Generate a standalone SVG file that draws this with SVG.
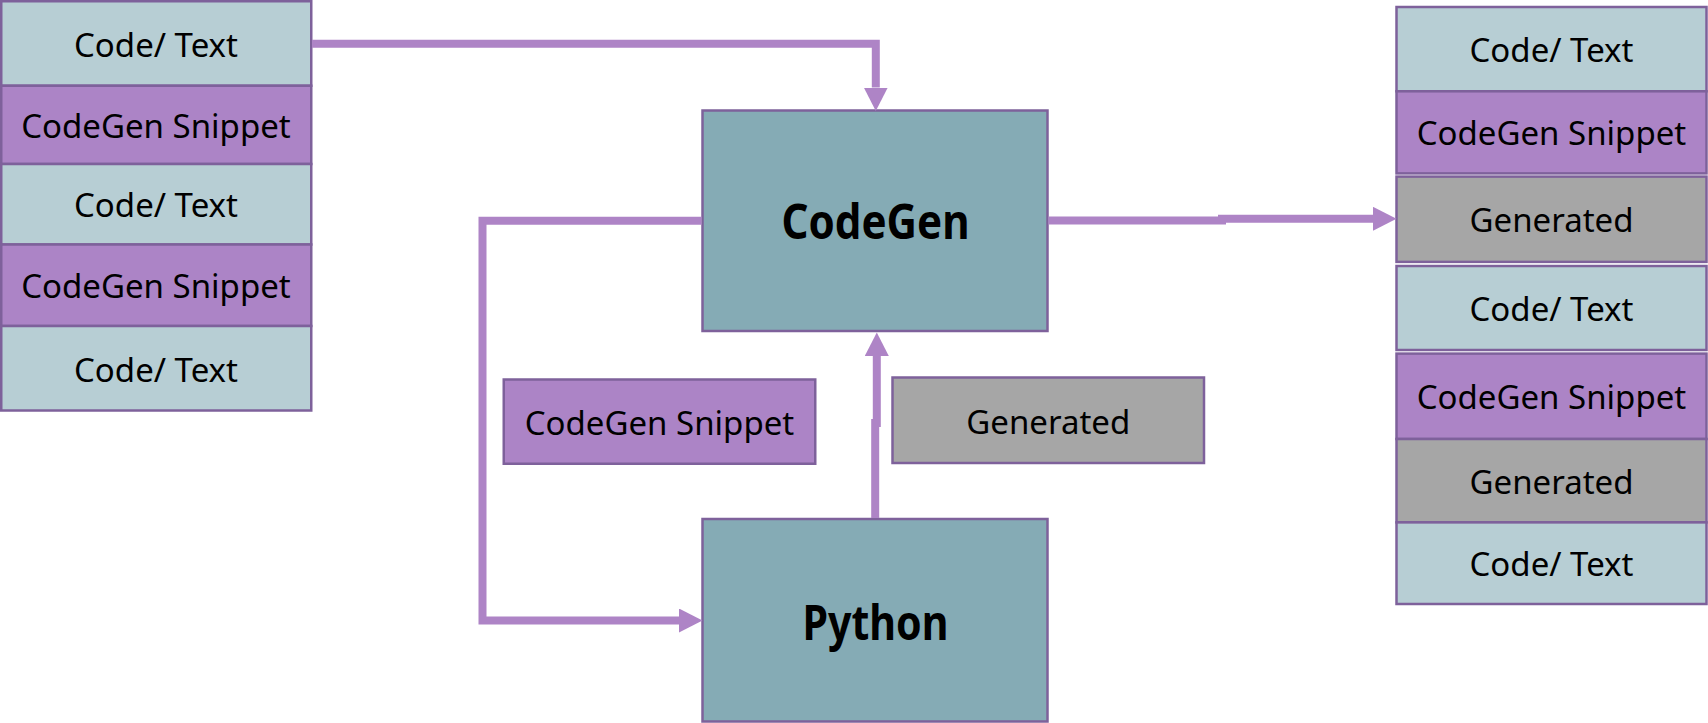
<svg xmlns="http://www.w3.org/2000/svg" width="1708" height="723" viewBox="0 0 1708 723">
<style>
.box{stroke:#7E619B;stroke-width:2.5}
.code{fill:#B7CED4}
.snip{fill:#AC84C6}
.gen{fill:#A6A6A6}
.proc{fill:#85ABB5}
.t{font-family:"Noto Sans","Open Sans","DejaVu Sans",sans-serif;font-size:33px;fill:#000;text-anchor:middle}
.b{font-family:"Noto Sans","Open Sans","DejaVu Sans",sans-serif;font-size:48px;font-weight:bold;fill:#000;text-anchor:middle}
.conn{fill:none;stroke:#AE84C6;stroke-width:8;stroke-linejoin:miter}
</style>
<defs>
<marker id="arr" markerUnits="userSpaceOnUse" markerWidth="24" markerHeight="24" refX="0" refY="12" orient="auto">
<path d="M0,0 L23.5,12 L0,24 z" fill="#AE84C6"/>
</marker>
</defs>
<rect width="1708" height="723" fill="#FFFFFF"/>

<g id="left-stack">
<g id="l1"><rect class="box code" x="1.25" y="1.25" width="310" height="84.5"/><text class="t" x="156" y="56.5">Code/ Text</text></g>
<g id="l2"><rect class="box snip" x="1.25" y="85.75" width="310" height="78.25"/><text class="t" x="156" y="138">CodeGen Snippet</text></g>
<g id="l3"><rect class="box code" x="1.25" y="164" width="310" height="80.5"/><text class="t" x="156" y="217">Code/ Text</text></g>
<g id="l4"><rect class="box snip" x="1.25" y="244.5" width="310" height="81.5"/><text class="t" x="156" y="298">CodeGen Snippet</text></g>
<g id="l5"><rect class="box code" x="1.25" y="326" width="310" height="84.5"/><text class="t" x="156" y="381.5">Code/ Text</text></g>
</g>

<g id="codegen"><rect class="box proc" x="702.5" y="110.5" width="345" height="220.5"/><text class="b" x="875.5" y="238.5" textLength="188" lengthAdjust="spacingAndGlyphs">CodeGen</text></g>
<g id="python"><rect class="box proc" x="702.5" y="519" width="345" height="202.5"/><text class="b" x="875.5" y="639.5" textLength="146" lengthAdjust="spacingAndGlyphs">Python</text></g>
<g id="mid-snippet"><rect class="box snip" x="503.75" y="379.5" width="311.5" height="84.25"/><text class="t" x="659.5" y="434.5">CodeGen Snippet</text></g>
<g id="mid-generated"><rect class="box gen" x="892.5" y="377.5" width="311.5" height="85.5"/><text class="t" x="1048.25" y="433.5">Generated</text></g>

<g id="right-stack">
<g id="r1"><rect class="box code" x="1396.5" y="7" width="310" height="84.3"/><text class="t" x="1551.5" y="62">Code/ Text</text></g>
<g id="r2"><rect class="box snip" x="1396.5" y="91.3" width="310" height="82.1"/><text class="t" x="1551.5" y="145">CodeGen Snippet</text></g>
<g id="r3"><rect class="box gen" x="1396.5" y="176.6" width="310" height="85.3"/><text class="t" x="1551.5" y="232">Generated</text></g>
<g id="r4"><rect class="box code" x="1396.5" y="266" width="310" height="84"/><text class="t" x="1551.5" y="321">Code/ Text</text></g>
<g id="r5"><rect class="box snip" x="1396.5" y="353.6" width="310" height="85.4"/><text class="t" x="1551.5" y="409">CodeGen Snippet</text></g>
<g id="r6"><rect class="box gen" x="1396.5" y="439" width="310" height="83.4"/><text class="t" x="1551.5" y="493.5">Generated</text></g>
<g id="r7"><rect class="box code" x="1396.5" y="522.4" width="310" height="81.6"/><text class="t" x="1551.5" y="576">Code/ Text</text></g>
</g>

<g id="connectors">
<path class="conn" d="M312,43.7 H875.8 V87.5" marker-end="url(#arr)"/>
<path class="conn" d="M701.5,220.8 H482.5 V620.5 H679" marker-end="url(#arr)"/>
<path class="conn" d="M875.2,518 V423 H876.8 V356" marker-end="url(#arr)"/>
<path class="conn" d="M1048.5,220.5 H1222 V218.8 H1373" marker-end="url(#arr)"/>
</g>
</svg>
